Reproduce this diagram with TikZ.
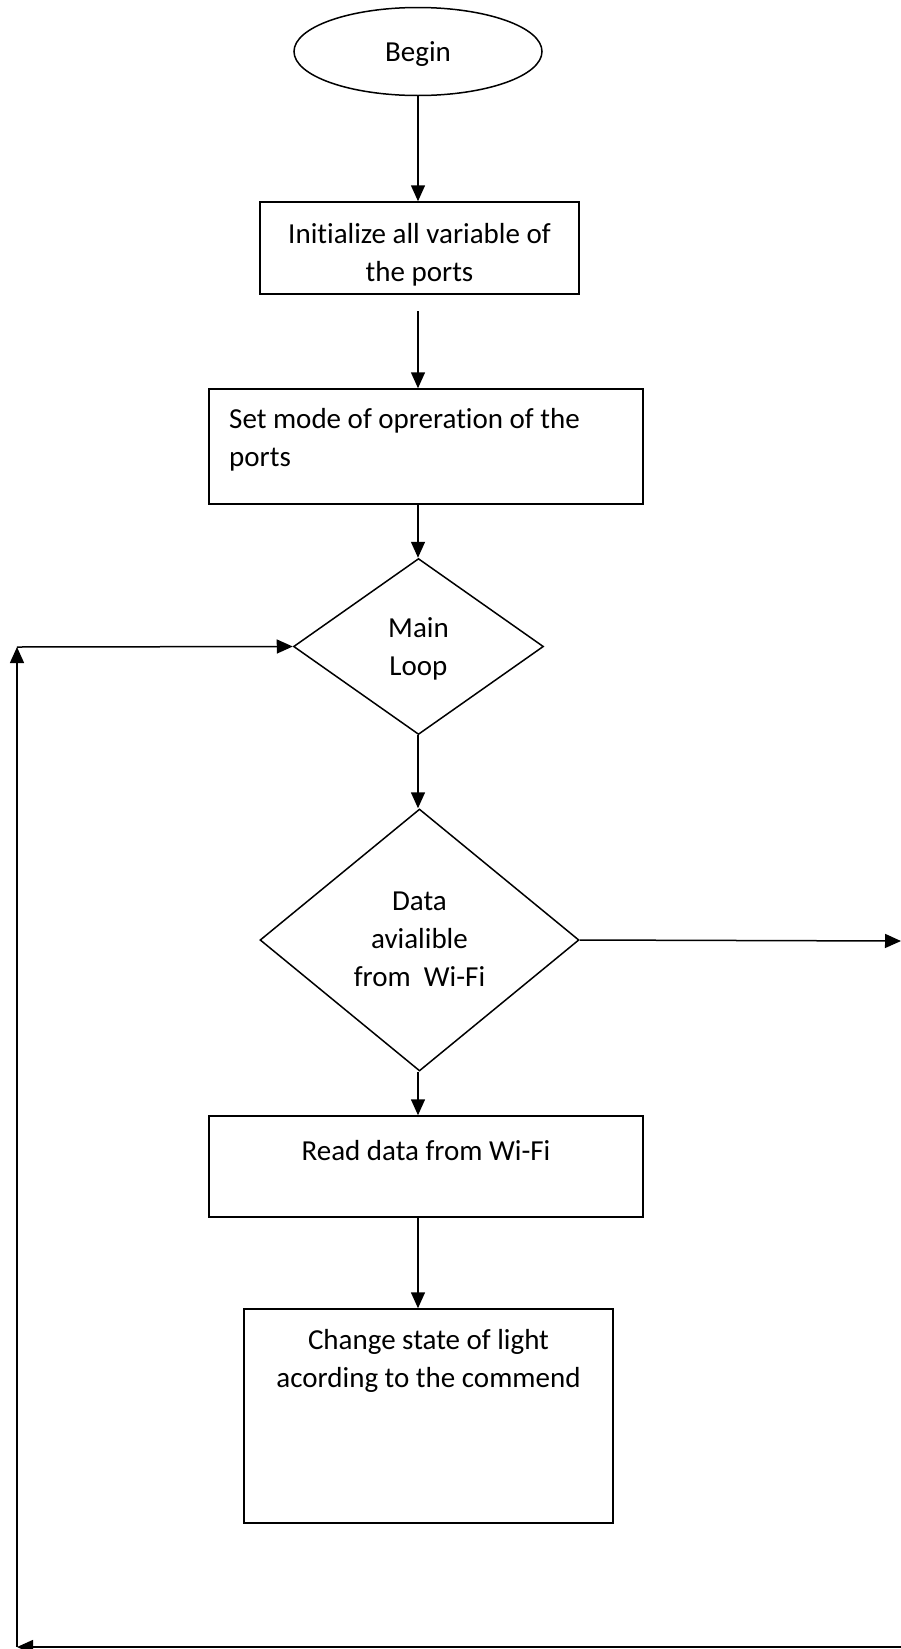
\documentclass[tikz,border=0pt]{standalone}
\usepackage{fontspec}
\setmainfont[Ligatures=NoCommon]{Carlito}
\usetikzlibrary{shapes.geometric,arrows.meta}
\tikzset{
  shp/.style={draw=black, line width=1.5pt, inner sep=0pt},
  boxs/.style={shp, rectangle},
  dia/.style={shp, diamond},
  txt/.style={font=\fontsize{29}{38}\selectfont, inner sep=0pt},
  arr/.style={line width=1.5pt, -{Triangle[length=16pt,width=14pt]}},
}
\begin{document}
\begin{tikzpicture}[x=1pt,y=-1pt]
\useasboundingbox (0,0) rectangle (901,1649);
\node[shp, ellipse, minimum width=248pt, minimum height=88pt] (begin) at (418,51.5) {};
\node[txt] (tbegin) at (418,54) {Begin};

\node[boxs, minimum width=319pt, minimum height=92pt] (box1) at (419.5,248) {};
\node[txt, align=center] (tbox1) at (419.5,255) {Initialize all variable of\\the ports};

\node[boxs, minimum width=434pt, minimum height=115pt] (box2) at (426,446.5) {};
\node[txt, align=left, anchor=west] (tbox2) at (229,440) {Set mode of opreration of the\\ports};

\node[dia, minimum width=250pt, minimum height=176pt] (d1) at (418.5,646.5) {};
\node[txt, align=center] (td1) at (418.5,649) {Main\\Loop};

\node[dia, minimum width=319pt, minimum height=262pt] (d2) at (419.5,940) {};
\node[txt, align=center] (td2) at (419.5,939) {Data\\avialible\\from~~Wi-Fi};

\node[boxs, minimum width=434pt, minimum height=101pt] (box3) at (426,1166.5) {};
\node[txt] (tbox3) at (426,1151) {Read data from Wi-Fi};

\node[boxs, minimum width=369pt, minimum height=214pt] (box4) at (428.5,1416) {};
\node[txt, align=center] (tbox4) at (428.5,1361) {Change state of light\\acording to the commend};

\coordinate (a2) at (418,311);
\coordinate (rr) at (901,941);
\coordinate (br) at (901,1647);
\coordinate (bl) at (17,1647);
\coordinate (tl) at (17,647);

\draw[arr] (begin.south) -- (begin.south |- box1.north);
\draw[arr] (a2) -- (a2 |- box2.north);
\draw[arr] (a2 |- box2.south) -- (a2 |- d1.north);
\draw[arr] (a2 |- d1.south) -- (a2 |- d2.north);
\draw[arr] (d2.east) -- (rr);
\draw[arr] (a2 |- d2.south) -- (a2 |- box3.north);
\draw[arr] (a2 |- box3.south) -- (a2 |- box4.north);
\draw[arr] (br) -- (bl);
\draw[arr] (bl) -- (tl);
\draw[arr] (tl) -- (d1.west);
\end{tikzpicture}
\end{document}
